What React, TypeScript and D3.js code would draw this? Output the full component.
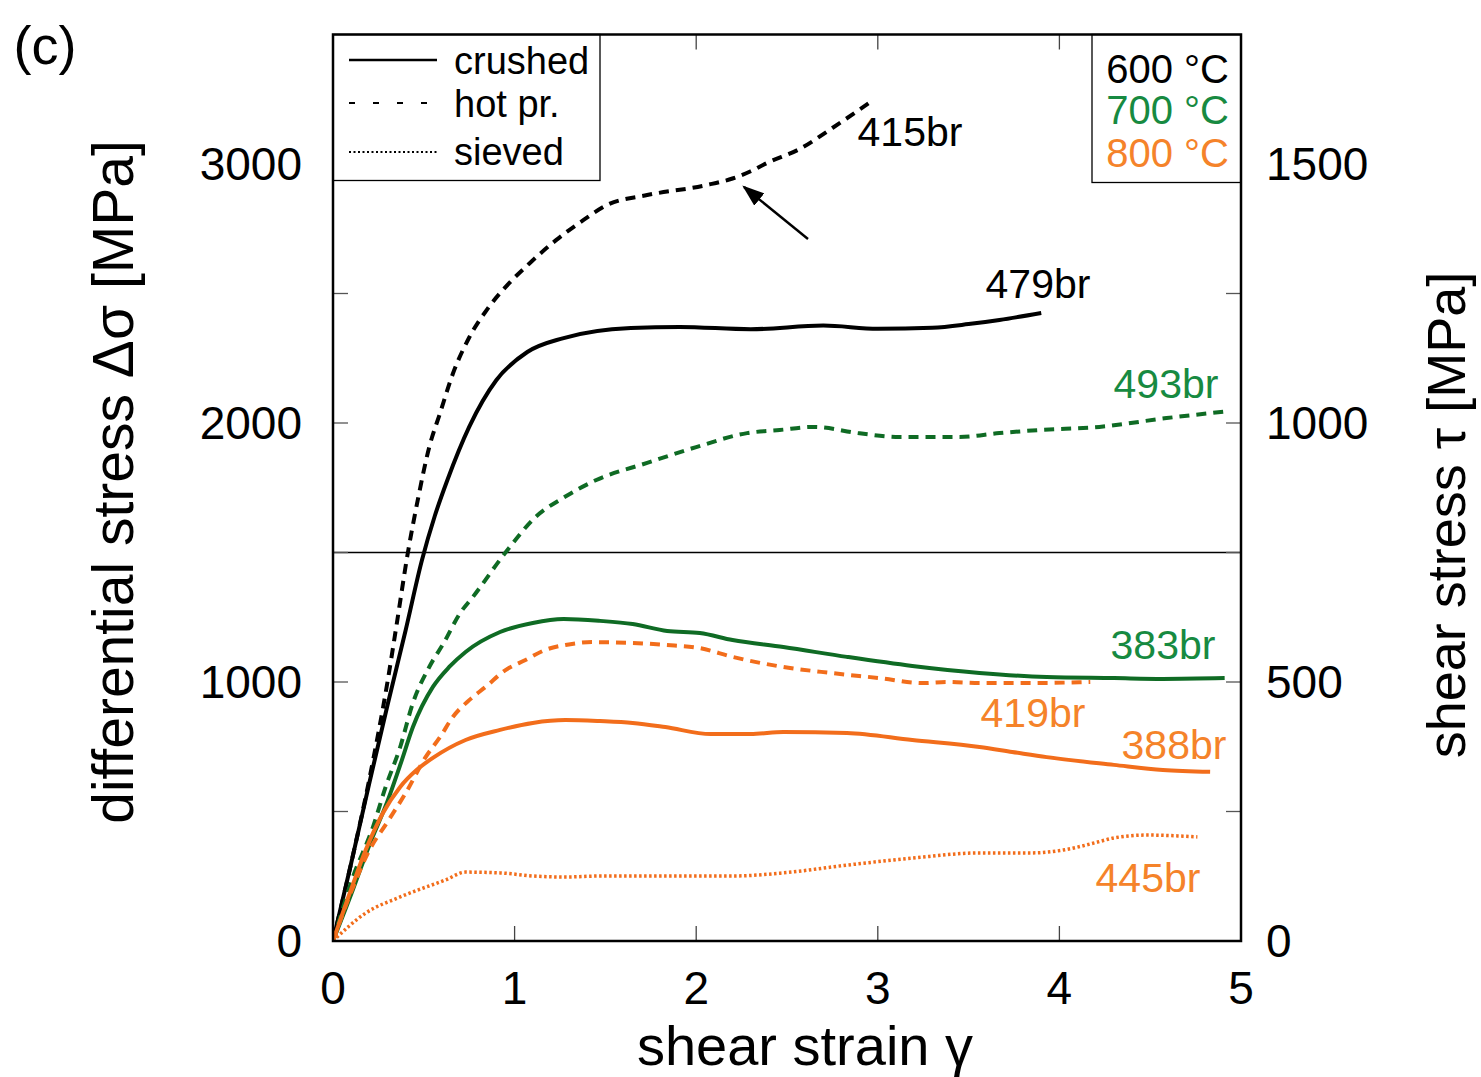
import React from "react";
import * as d3 from "d3";

type P = [number, number];

const crushed600: P[] = [[0,0],[0.1,300],[0.2,610],[0.3,910],[0.4,1200],[0.49,1471],[0.56,1640],[0.63,1780],[0.75,1985],[0.9,2166],[1.07,2274],[1.27,2328],[1.64,2367],[1.91,2371],[2.3,2362],[2.7,2376],[3.0,2364],[3.3,2368],[3.5,2382],[3.67,2398],[3.9,2425]];
const hot600: P[] = [[0,0],[0.1,300],[0.2,625],[0.3,1000],[0.35,1220],[0.41,1490],[0.47,1714],[0.53,1907],[0.59,2039],[0.66,2190],[0.75,2330],[0.85,2440],[0.97,2540],[1.08,2615],[1.23,2707],[1.38,2784],[1.51,2842],[1.73,2880],[2.06,2919],[2.2,2944],[2.3,2972],[2.39,3004],[2.57,3058],[2.75,3139],[2.96,3240]];
const hot700: P[] = [[0,0],[0.11,247],[0.22,440],[0.29,595],[0.37,749],[0.44,919],[0.53,1058],[0.61,1151],[0.7,1266],[0.77,1328],[0.95,1500],[1.12,1640],[1.27,1712],[1.45,1780],[1.73,1846],[2.0,1907],[2.28,1961],[2.46,1973],[2.65,1985],[2.9,1960],[3.12,1946],[3.45,1946],[3.67,1961],[3.89,1973],[4.22,1985],[4.59,2019],[4.94,2046]];
const crushed700: P[] = [[0,0],[0.1,180],[0.2,370],[0.3,540],[0.375,690],[0.44,826],[0.55,981],[0.64,1058],[0.73,1116],[0.92,1193],[1.1,1228],[1.27,1243],[1.47,1236],[1.65,1224],[1.84,1197],[2.02,1189],[2.2,1162],[2.48,1135],[2.83,1097],[3.19,1062],[3.56,1035],[3.93,1019],[4.3,1015],[4.57,1012],[4.91,1015]];
const hot800: P[] = [[0,0],[0.1,190],[0.2,350],[0.3,460],[0.4,571],[0.51,710],[0.59,788],[0.66,865],[0.75,930],[0.84,981],[0.95,1046],[1.06,1085],[1.17,1124],[1.28,1143],[1.43,1154],[1.65,1151],[1.83,1143],[2.02,1131],[2.2,1097],[2.48,1058],[2.74,1035],[3.01,1015],[3.25,996],[3.38,1000],[3.56,996],[3.84,996],[4.17,1000]];
const crushed800: P[] = [[0,0],[0.1,200],[0.18,351],[0.275,494],[0.37,595],[0.46,660],[0.55,707],[0.73,776],[0.92,815],[1.1,842],[1.28,853],[1.47,849],[1.65,842],[1.83,826],[2.08,799],[2.3,799],[2.48,807],[2.83,803],[3.19,776],[3.56,749],[3.74,730],[3.93,710],[4.3,680],[4.57,660],[4.83,653]];
const sieved800: P[] = [[0,0],[0.18,108],[0.37,170],[0.62,236],[0.73,266],[0.92,263],[1.1,251],[1.28,247],[1.47,251],[1.83,251],[2.2,251],[2.48,263],[2.83,293],[3.19,320],[3.56,340],[3.84,340],[4.02,351],[4.21,382],[4.3,398],[4.48,409],[4.76,402]];

const xTicks = [0, 1, 2, 3, 4, 5];
const yLeftLabels = [0, 1000, 2000, 3000];
const yTickMarks = [500, 1000, 1500, 2000, 2500, 3000];
const yRightLabels = [0, 500, 1000, 1500];

const BLACK = "#000000";
const GREEN = "#0f6b24";
const ORANGE = "#f26d1b";
const GREEN_T = "#178a41";
const ORANGE_T = "#f5832a";

const DASH = "10 7";
const DOT = "2.5 2.5";

const series = [
  { name: "479br", data: crushed600, color: BLACK, dash: null, lx: 1038, ly: 284, tc: BLACK },
  { name: "415br", data: hot600, color: BLACK, dash: DASH, lx: 910, ly: 132, tc: BLACK },
  { name: "493br", data: hot700, color: GREEN, dash: DASH, lx: 1166, ly: 384, tc: GREEN_T },
  { name: "383br", data: crushed700, color: GREEN, dash: null, lx: 1163, ly: 645, tc: GREEN_T },
  { name: "419br", data: hot800, color: ORANGE, dash: DASH, lx: 1033, ly: 713, tc: ORANGE_T },
  { name: "388br", data: crushed800, color: ORANGE, dash: null, lx: 1174, ly: 745, tc: ORANGE_T },
  { name: "445br", data: sieved800, color: ORANGE, dash: DOT, lx: 1148, ly: 878, tc: ORANGE_T },
];

const L = 333, R = 1241, T = 34.5, B = 941;
const FONT = "'Liberation Sans', Arial, Helvetica, sans-serif";

export default function App() {
  const x = d3.scaleLinear().domain([0, 5]).range([L, R]);
  const y = d3.scaleLinear().domain([0, 3500]).range([B, T]);
  const line = d3.line<P>().x(d => x(d[0])).y(d => y(d[1])).curve(d3.curveMonotoneX);

  return (
    <svg width={1481} height={1077} style={{ position: "absolute", left: 0, top: 0, background: "#fff" }} fontFamily={FONT}>
      <defs>
        <clipPath id="plot"><rect x={L} y={T} width={R - L} height={B - T} /></clipPath>
        <marker id="arrow" viewBox="0 0 10 10" refX="9" refY="5" markerWidth="22" markerHeight="16" orient="auto-start-reverse" markerUnits="userSpaceOnUse" preserveAspectRatio="none">
          <path d="M0,0 L10,5 L0,10 z" fill="#000" />
        </marker>
      </defs>
      <rect x={0} y={0} width={1481} height={1077} fill="#fff" />

      {/* horizontal line at 1500 */}
      <line x1={L} x2={R} y1={y(1500)} y2={y(1500)} stroke="#000" strokeWidth={1.6} />

      {/* ticks */}
      {xTicks.slice(1, -1).map(t => (
        <g key={"xt" + t}>
          <line x1={x(t)} x2={x(t)} y1={B} y2={B - 15} stroke="#444" strokeWidth={1.3} />
          <line x1={x(t)} x2={x(t)} y1={T} y2={T + 15} stroke="#444" strokeWidth={1.3} />
        </g>
      ))}
      {yTickMarks.map(t => (
        <g key={"yt" + t}>
          <line x1={L} x2={L + 15} y1={y(t)} y2={y(t)} stroke="#555" strokeWidth={1.3} />
          <line x1={R} x2={R - 15} y1={y(t)} y2={y(t)} stroke="#555" strokeWidth={1.3} />
        </g>
      ))}

      {/* curves */}
      <g clipPath="url(#plot)">
        {series.map(s => (
          <path key={s.name} d={line(s.data) || ""} fill="none" stroke={s.color}
            strokeWidth={s.dash === DOT ? 3.5 : 4} strokeDasharray={s.dash || undefined} strokeLinejoin="round" />
        ))}
      </g>

      {/* curve labels */}
      {series.map(s => (
        <text key={"l" + s.name} x={s.lx} y={s.ly} fontSize={41} fill={s.tc} textAnchor="middle" dominantBaseline="central">{s.name}</text>
      ))}

      {/* arrow */}
      <line x1={808} y1={239} x2={744} y2={187} stroke="#000" strokeWidth={2.4} markerEnd="url(#arrow)" />

      {/* legend box */}
      <rect x={L} y={T} width={267} height={146} fill="#fff" stroke="#000" strokeWidth={1.3} />
      <line x1={349} x2={437} y1={60} y2={60} stroke="#000" strokeWidth={2.5} />
      <line x1={349} x2={437} y1={103} y2={103} stroke="#000" strokeWidth={2} strokeDasharray="6 18" />
      <line x1={349} x2={437} y1={152} y2={152} stroke="#000" strokeWidth={2} strokeDasharray="2 2.5" />
      <text x={454} y={61} fontSize={38} dominantBaseline="central">crushed</text>
      <text x={454} y={104} fontSize={38} dominantBaseline="central">hot pr.</text>
      <text x={454} y={152} fontSize={38} dominantBaseline="central">sieved</text>

      {/* temperature box */}
      <rect x={1092} y={T} width={R - 1092} height={148} fill="#fff" stroke="#000" strokeWidth={1.3} />
      <text x={1229} y={69} fontSize={40} textAnchor="end" dominantBaseline="central" fill={BLACK}>600 °C</text>
      <text x={1229} y={110} fontSize={40} textAnchor="end" dominantBaseline="central" fill={GREEN_T}>700 °C</text>
      <text x={1229} y={153} fontSize={40} textAnchor="end" dominantBaseline="central" fill={ORANGE_T}>800 °C</text>

      {/* frame */}
      <rect x={L} y={T} width={R - L} height={B - T} fill="none" stroke="#000" strokeWidth={2.5} />

      {/* axis labels */}
      {xTicks.map(t => (
        <text key={"xl" + t} x={x(t)} y={988} fontSize={46} textAnchor="middle" dominantBaseline="central">{t}</text>
      ))}
      {yLeftLabels.map(t => (
        <text key={"yl" + t} x={302} y={y(t)} fontSize={46} textAnchor="end" dominantBaseline="central">{t}</text>
      ))}
      {yRightLabels.map(t => (
        <text key={"yr" + t} x={1266} y={y(t * 2)} fontSize={46} textAnchor="start" dominantBaseline="central">{t}</text>
      ))}

      <text x={805} y={1045} fontSize={56} textAnchor="middle" dominantBaseline="central">shear strain γ</text>
      <text transform={`translate(113,482) rotate(-90)`} fontSize={57} textAnchor="middle" dominantBaseline="central">differential stress Δσ [MPa]</text>
      <text transform={`translate(1446,515) rotate(-90)`} fontSize={54} textAnchor="middle" dominantBaseline="central">shear stress τ [MPa]</text>

      <text x={45} y={45} fontSize={54} textAnchor="middle" dominantBaseline="central">(c)</text>
    </svg>
  );
}
